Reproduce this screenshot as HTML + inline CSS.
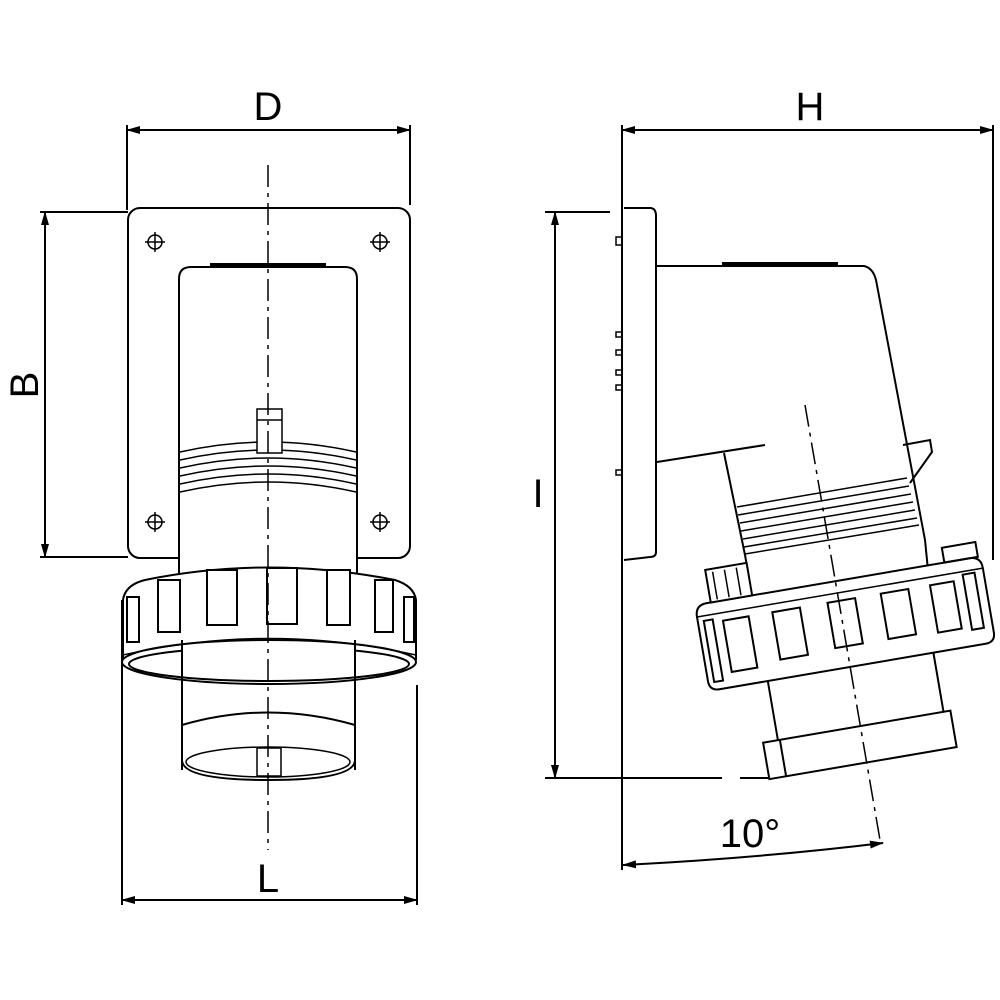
<!DOCTYPE html>
<html><head><meta charset="utf-8"><style>html,body{margin:0;padding:0;background:#fff}svg{display:block}</style></head>
<body>
<svg width="1000" height="1000" viewBox="0 0 1000 1000" xmlns="http://www.w3.org/2000/svg" font-family="Liberation Sans, sans-serif">
<defs>
<marker id="a" markerWidth="14" markerHeight="8" refX="13" refY="4" orient="auto" markerUnits="userSpaceOnUse"><path d="M0,0 L14,4 L0,8 Z" fill="#000"/></marker>
<marker id="b" markerWidth="14" markerHeight="8" refX="1" refY="4" orient="auto" markerUnits="userSpaceOnUse"><path d="M14,0 L0,4 L14,8 Z" fill="#000"/></marker>
</defs>
<g fill="none" stroke="#000" stroke-width="2">
<!-- LEFT VIEW -->
<line x1="127" y1="125" x2="127" y2="210"/><line x1="410" y1="125" x2="410" y2="205"/>
<line x1="127" y1="130" x2="410" y2="130" marker-start="url(#b)" marker-end="url(#a)"/>
<line x1="40" y1="212" x2="128" y2="212"/><line x1="40" y1="557" x2="128" y2="557"/>
<line x1="45" y1="212" x2="45" y2="557" marker-start="url(#b)" marker-end="url(#a)"/>
<rect x="128" y="208" width="282" height="350" rx="12"/>
<g stroke-width="1.5">
<circle cx="155" cy="242" r="7"/><path d="M145,242H165M155,232V252"/>
<circle cx="380" cy="242" r="7"/><path d="M370,242H390M380,232V252"/>
<circle cx="155" cy="522" r="7"/><path d="M145,522H165M155,512V532"/>
<circle cx="380" cy="522" r="7"/><path d="M370,522H390M380,512V532"/>
</g>
<path d="M179,580 V279 Q179,267 191,267 H345 Q357,267 357,279 V580" fill="#fff"/>
<line x1="210" y1="265" x2="326" y2="265" stroke-width="4"/>
<g stroke-width="1.5">
<path d="M180,452 Q268,432 356,452"/><path d="M180,460 Q268,440 356,460"/>
<path d="M180,468 Q268,448 356,468"/><path d="M180,476 Q268,456 356,476"/>
<path d="M180,484 Q268,464 356,484"/><path d="M180,492 Q268,472 356,492"/>
</g>
<rect x="257" y="409" width="25" height="44" fill="#fff" stroke-width="1.5"/><line x1="257" y1="420" x2="282" y2="420" stroke-width="1.5"/>
<!-- ring -->
<path d="M123,660 V600 Q125,585 145,580 Q268,555 395,580 Q414,586 416,600 V660" fill="#fff"/>
<ellipse cx="269" cy="662" rx="147" ry="22" fill="#fff"/>
<ellipse cx="269" cy="664" rx="140" ry="17"/>
<path d="M123,655 Q269,622 416,655" stroke-width="1.5"/>
<path d="M182,640 V770 M355,640 V770" />
<rect x="183" y="646" width="171" height="30" fill="#fff" stroke="none"/>
<path d="M182,642 V770 M355,642 V770"/>
<g stroke-width="2" fill="#fff">
<rect x="127" y="597" width="12" height="45"/><rect x="158" y="580" width="22" height="52"/>
<rect x="207" y="570" width="30" height="55"/><rect x="267" y="568" width="30" height="56"/>
<rect x="327" y="570" width="23" height="55"/><rect x="375" y="580" width="18" height="52"/>
<rect x="404" y="597" width="10" height="45"/>
</g>
<path d="M182,725 Q268,700 355,725"/>
<path d="M182,760 Q182,780 268,780 Q355,780 355,760"/>
<ellipse cx="268" cy="762" rx="82" ry="15" stroke-width="1.5"/>
<rect x="257" y="748" width="24" height="28" stroke-width="1.5" fill="#fff"/>
<line x1="268" y1="165" x2="268" y2="850" stroke-width="1.5" stroke-dasharray="22,6,4,6"/>
<line x1="122" y1="600" x2="122" y2="905"/><line x1="417" y1="685" x2="417" y2="905"/>
<line x1="122" y1="900" x2="417" y2="900" marker-start="url(#b)" marker-end="url(#a)"/>

<!-- RIGHT VIEW -->
<line x1="622" y1="125" x2="622" y2="870"/><line x1="993" y1="125" x2="993" y2="560"/>
<line x1="622" y1="130" x2="993" y2="130" marker-start="url(#b)" marker-end="url(#a)"/>
<line x1="545" y1="212" x2="610" y2="212"/>
<line x1="545" y1="778" x2="722" y2="778"/><line x1="740" y1="778" x2="770" y2="778"/>
<line x1="555" y1="212" x2="555" y2="778" marker-start="url(#b)" marker-end="url(#a)"/>
<path d="M624,208 H650 Q656,208 656,216 V552 Q656,557 650,557 L624,560"/>
<g stroke-width="1.5">
<rect x="616" y="237" width="6" height="8"/><rect x="616" y="332" width="6" height="5"/>
<rect x="616" y="350" width="6" height="5"/><rect x="616" y="370" width="6" height="5"/>
<rect x="616" y="385" width="6" height="5"/><rect x="616" y="470" width="6" height="5"/>
</g>
<path d="M657,266 H864 Q873,268 876,280 L925,540 L928,570"/>
<line x1="722" y1="264" x2="838" y2="264" stroke-width="4"/>
<path d="M657,462 L765,445 M724,453 L745,555 L748,572"/>
<path d="M903,445 L930,440 L932,452 L910,483"/>
<g stroke-width="1.5">
<path d="M737,507 L907,478"/><path d="M738,515 L909,486"/><path d="M740,523 L911,494"/>
<path d="M741,531 L913,502"/><path d="M743,539 L915,510"/><path d="M744,547 L917,518"/>
<path d="M745,554 L919,525"/>
</g>
<!-- ring rotated -->
<g transform="rotate(-9.7 697 617)">
<path d="M697,617 V682 Q697,692 707,692 H977 Q987,692 987,682 V617 Q987,605 975,605 H709 Q697,605 697,617 Z" fill="#fff"/>
<line x1="697" y1="617" x2="987" y2="617" stroke-width="1.5"/>
<rect x="713" y="572" width="42" height="33" fill="#fff"/>
<path d="M720,575 V603 M732,575 V603 M744,575 V603" stroke-width="1.5"/>
<rect x="950" y="590" width="34" height="15"/>
<g stroke-width="2" fill="#fff">
<rect x="703" y="622" width="9" height="62"/><rect x="722" y="625" width="26" height="52"/>
<rect x="772" y="625" width="28" height="48"/><rect x="828" y="625" width="28" height="46"/>
<rect x="882" y="625" width="28" height="46"/><rect x="932" y="625" width="24" height="48"/>
<rect x="966" y="620" width="12" height="56"/>
</g>
<path d="M756,692 L756,752 M924,692 L924,752"/>
<rect x="741" y="752" width="190" height="37" fill="#fff"/>
<line x1="758" y1="752" x2="758" y2="789"/>
</g>
<line x1="805" y1="405" x2="880" y2="840" stroke-width="1.5" stroke-dasharray="22,6,4,6"/>
<path d="M623,865 Q760,858 883,843" marker-start="url(#b)" marker-end="url(#a)"/>
</g>
<g font-size="40" fill="#000">
<text x="268" y="120" text-anchor="middle">D</text>
<text x="810" y="120" text-anchor="middle">H</text>
<text x="268" y="892" text-anchor="middle">L</text>
<text x="538" y="507" text-anchor="middle">I</text>
<text x="750" y="847" text-anchor="middle">10°</text>
<text transform="translate(38,385) rotate(-90)" text-anchor="middle">B</text>
</g>
</svg>
</body></html>
